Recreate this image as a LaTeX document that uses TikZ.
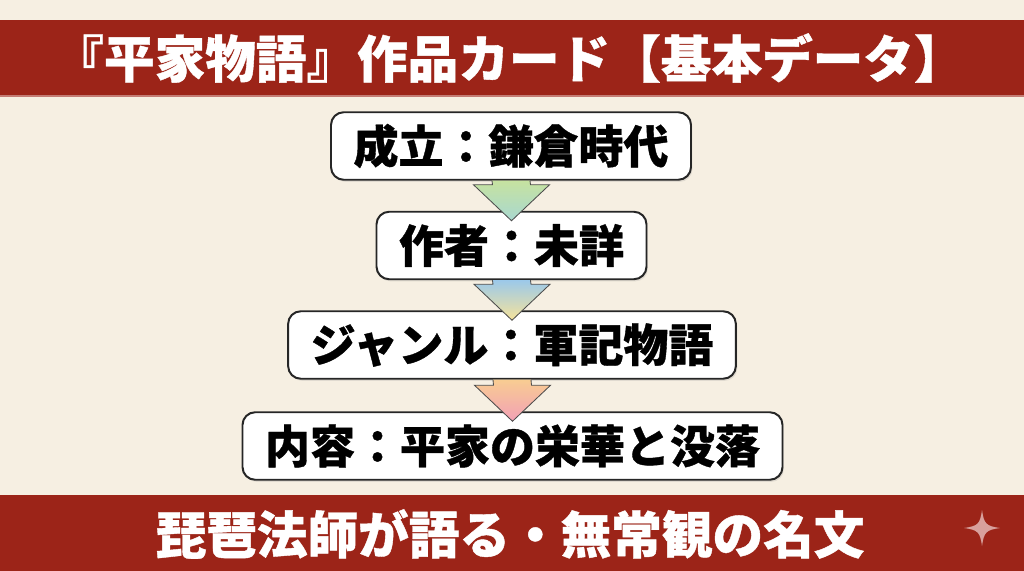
\documentclass[tikz,border=0pt]{standalone}
\usepackage{fontspec}
\setmainfont{Noto Sans CJK JP}[BoldFeatures={FakeBold=0.8}]
\usetikzlibrary{positioning,calc,shadows}
\definecolor{bannerred}{HTML}{9C2418}
\definecolor{paper}{HTML}{F6EFE2}
\definecolor{sparkle}{HTML}{D8A09C}
\definecolor{leaftop}{HTML}{C6E2A0}
\definecolor{leafbot}{HTML}{A8D8D0}
\definecolor{skytop}{HTML}{9CC9EA}
\definecolor{skybot}{HTML}{F6E39A}
\definecolor{dusktop}{HTML}{F8CC92}
\definecolor{duskbot}{HTML}{F2A0B6}
\tikzstyle{card} = [draw=black!85,line width=1.4pt,fill=white,rounded corners=9pt,inner xsep=16pt,minimum height=48pt,font=\bfseries\fontsize{32}{36}\selectfont,drop shadow={opacity=0.18,shadow xshift=1pt,shadow yshift=-1.5pt}]
\tikzstyle{blockarrow} = [draw=black!70,line width=0.6pt,line join=miter]

\begin{document}
\begin{tikzpicture}[x=0.025cm,y=-0.025cm,
  banner/.style={fill=bannerred},
  bannertext/.style={text=white,font=\bfseries\fontsize{36}{40}\selectfont}]

 \useasboundingbox (0,0) rectangle (1024,571);
 \fill[paper] (0,0) rectangle (1024,571);

 % banners
 \fill[banner] (0,20) rectangle (1024,96);
 \draw[bannerred!60!white,line width=0.8pt] (0,96) -- (1024,96);
 \node[bannertext] (title) at (509,58) {『平家物語』作品カード【基本データ】};

 \fill[banner] (0,495) rectangle (1024,571);
 \node[bannertext] (motto) at (510,534) {琵琶法師が語る・無常観の名文};
 \fill[sparkle] (982,510) .. controls (984,524) and (986,526) .. (1000,528)
   .. controls (986,530) and (984,532) .. (982,546)
   .. controls (980,532) and (978,530) .. (964,528)
   .. controls (978,526) and (980,524) .. (982,510) -- cycle;

 % cards
 \node[card] (era) at (511,146) {成立：鎌倉時代};
 \node[card] (author) at (511.5,245.5) {作者：未詳};
 \node[card] (genre) at (512,345) {ジャンル：軍記物語};
 \node[card] (content) at (512.5,446) {内容：平家の栄華と没落};

 % arrows
 \shadedraw[blockarrow,top color=leaftop,bottom color=leafbot]
   ($(era.south)+(-19,0)$) -- ($(author.north)+(-19,-26)$) -- ($(author.north)+(-38,-26)$)
   -- ($(author.north)+(0,10)$) -- ($(author.north)+(38,-26)$) -- ($(author.north)+(19,-26)$)
   -- ($(era.south)+(19,0)$);
 \shadedraw[blockarrow,top color=skytop,bottom color=skybot]
   ($(author.south)+(-19,0)$) -- ($(genre.north)+(-19,-26)$) -- ($(genre.north)+(-38,-26)$)
   -- ($(genre.north)+(0,10)$) -- ($(genre.north)+(38,-26)$) -- ($(genre.north)+(19,-26)$)
   -- ($(author.south)+(19,0)$);
 \shadedraw[blockarrow,top color=dusktop,bottom color=duskbot]
   ($(genre.south)+(-19,0)$) -- ($(content.north)+(-19,-26)$) -- ($(content.north)+(-38,-26)$)
   -- ($(content.north)+(0,10)$) -- ($(content.north)+(38,-26)$) -- ($(content.north)+(19,-26)$)
   -- ($(genre.south)+(19,0)$);
\end{tikzpicture}
\end{document}
